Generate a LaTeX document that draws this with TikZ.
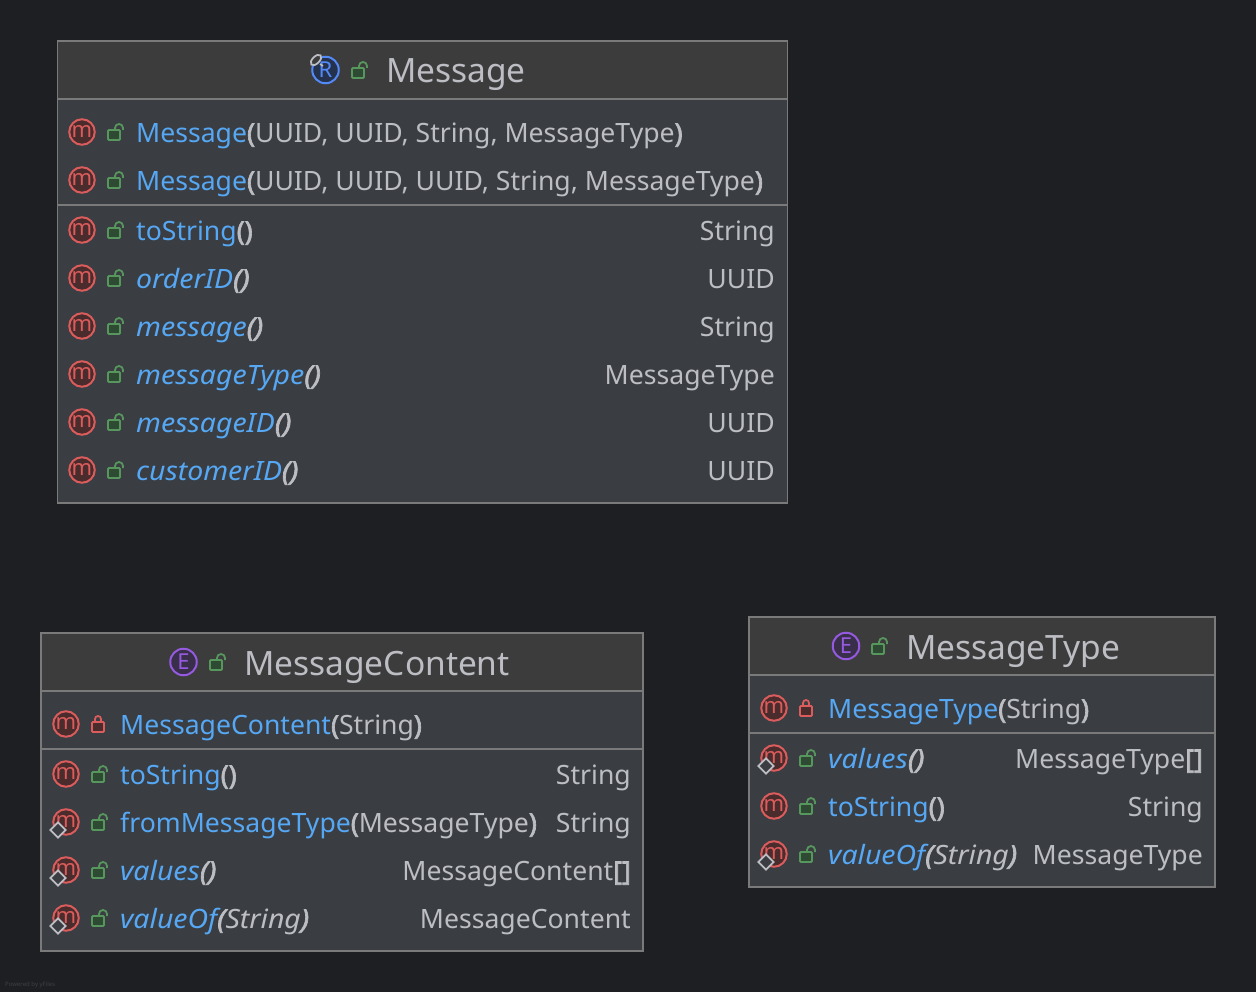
\documentclass[tikz,border=0pt]{standalone}
\usepackage{fontspec}
\setmainfont{Noto Sans}[
  BoldFont={Noto Sans},BoldFeatures={FakeBold=2.5},
  ItalicFont={Noto Sans/I},ItalicFeatures={FakeStretch=1.07},
  BoldItalicFont={Noto Sans/I},BoldItalicFeatures={FakeBold=2.5,FakeStretch=1.07}]
\usetikzlibrary{shapes.geometric}
\definecolor{bgc}{HTML}{1E1F22}
\definecolor{headc}{HTML}{3C3C3C}
\definecolor{bodyc}{HTML}{3A3D41}
\definecolor{edgec}{HTML}{7A7A7A}
\definecolor{txtc}{HTML}{BCBEC4}
\definecolor{namec}{HTML}{56A8F5}
\definecolor{redc}{HTML}{DB5C5C}
\definecolor{redf}{HTML}{4A2C2C}
\definecolor{grnc}{HTML}{57965C}
\definecolor{grnf}{HTML}{2F4A33}
\definecolor{purc}{HTML}{955AE0}
\definecolor{bluc}{HTML}{548AF7}
\definecolor{bluf}{HTML}{25324D}
\definecolor{purf}{HTML}{3A2F4A}
\definecolor{wmc}{HTML}{3E4045}
\tikzset{
  x=1pt,y=-1pt,
  boxhead/.style={draw=edgec,line width=1.6pt,fill=headc},
  boxbody/.style={draw=edgec,line width=1.6pt,fill=bodyc},
  sep/.style={draw=edgec,line width=1.6pt},
  member/.style={anchor=base west,inner sep=0pt,font=\fontsize{26.6}{27}\selectfont,text=txtc},
  rettype/.style={anchor=base east,inner sep=0pt,font=\fontsize{26.6}{27}\selectfont,text=txtc},
  titletext/.style={anchor=base west,inner sep=0pt,font=\fontsize{33.5}{34}\selectfont,text=txtc},
  iconm/.style={circle,draw=redc,fill=redf,line width=2pt,minimum size=25.5pt,inner sep=0pt,text=redc,font=\fontsize{22}{22}\selectfont},
  icont/.style={circle,line width=2pt,minimum size=26.5pt,inner sep=0pt,font=\fontsize{22}{22}\selectfont},
  staticmark/.style={diamond,draw=txtc,fill=bodyc,line width=1.8pt,minimum size=16pt,inner sep=0pt},
}
\newcommand{\openlock}[2]{%
  \draw[grnc,fill=grnf,line width=1.8pt,rounded corners=1pt] (#1-8,#2-2) rectangle (#1+4,#2+8);
  \draw[grnc,line width=1.8pt] (#1-1,#2-2) -- (#1-1,#2-4) arc[start angle=180,end angle=0,x radius=4,y radius=-4] -- (#1+7,#2-2);
}
\newcommand{\closedlock}[2]{%
  \draw[redc,line width=1.8pt,fill=redf,rounded corners=1pt] (#1-6,#2-2) rectangle (#1+6,#2+8);
  \draw[redc,line width=1.8pt] (#1-3,#2-2) -- (#1-3,#2-5) arc[start angle=180,end angle=0,x radius=3,y radius=-3] -- (#1+3,#2-2);
}
% \mrow{id}{icon centre x}{centre y}{lock}{static 0/1}{text}{right x}{return}
\newcommand{\mrow}[8]{%
  \node[iconm] (#1i) at (#2,#3) {\raisebox{1.5pt}{m}};
  \ifnum#5=1 \node[staticmark] (#1s) at (#2-8,#3+8) {};\fi
  \ifnum#4=1 \openlock{#2+34}{#3}\else\closedlock{#2+32}{#3}\fi
  \node[member] (#1t) at (#2+54,#3+10.5) {#6};
  \node[rettype] (#1r) at (#7,#3+10.5) {\strut\smash{#8}};
}
\newcommand{\nm}[1]{\textcolor{namec}{#1}}
\newcommand{\pb}[1]{\textbf{#1}}
\begin{document}
\begin{tikzpicture}
\useasboundingbox (0,0) rectangle (1256,992);
\fill[bgc] (0,0) rectangle (1256,992);

% ---- Message
\draw[boxbody] (57.5,41) rectangle (787.5,503);
\draw[boxhead] (57.5,41) rectangle (787.5,99);
\draw[sep] (57.5,205) -- (787.5,205);
\node[icont,draw=bluc,fill=bluf,text=bluc] (msgicon) at (325.5,70) {R};
\draw[txtc,line width=1.6pt] (320,64) -- (323,66);
\draw[txtc,fill=headc,line width=1.8pt,rotate around={45:(316,60)}] (316,60) ellipse[x radius=6.5,y radius=3.5];
\openlock{360}{70}
\node[titletext] (msgtitle) at (386,83) {Message};
\mrow{a1}{82}{132}{1}{0}{\nm{Message}\pb{(}UUID, UUID, String, MessageType\pb{)}}{775}{}
\mrow{a2}{82}{180}{1}{0}{\nm{Message}\pb{(}UUID, UUID, UUID, String, MessageType\pb{)}}{775}{}
\mrow{a3}{82}{230}{1}{0}{\nm{toString}\pb{()}}{775}{String}
\mrow{a4}{82}{278}{1}{0}{\textit{\nm{orderID}\pb{()}}}{775}{UUID}
\mrow{a5}{82}{326}{1}{0}{\textit{\nm{message}\pb{()}}}{775}{String}
\mrow{a6}{82}{374}{1}{0}{\textit{\nm{messageType}\pb{()}}}{775}{MessageType}
\mrow{a7}{82}{422}{1}{0}{\textit{\nm{messageID}\pb{()}}}{775}{UUID}
\mrow{a8}{82}{470}{1}{0}{\textit{\nm{customerID}\pb{()}}}{775}{UUID}

% ---- MessageContent
\draw[boxbody] (41,633) rectangle (643,951);
\draw[boxhead] (41,633) rectangle (643,691);
\draw[sep] (41,749) -- (643,749);
\node[icont,draw=purc,fill=purf,text=purc] (mcicon) at (183.5,662) {E};
\openlock{218}{662}
\node[titletext] (mctitle) at (244,675) {MessageContent};
\mrow{b1}{66}{724}{0}{0}{\nm{MessageContent}\pb{(}String\pb{)}}{631}{}
\mrow{b2}{66}{774}{1}{0}{\nm{toString}\pb{()}}{631}{String}
\mrow{b3}{66}{822}{1}{1}{\nm{fromMessageType}\pb{(}MessageType\pb{)}}{631}{String}
\mrow{b4}{66}{870}{1}{1}{\textit{\nm{values}\pb{()}}}{631}{MessageContent\pb{[]}}
\mrow{b5}{66}{918}{1}{1}{\textit{\nm{valueOf}\pb{(}String\pb{)}}}{631}{MessageContent}

% ---- MessageType
\draw[boxbody] (749,617) rectangle (1215,887);
\draw[boxhead] (749,617) rectangle (1215,675);
\draw[sep] (749,733) -- (1215,733);
\node[icont,draw=purc,fill=purf,text=purc] (mticon) at (846,646) {E};
\openlock{880}{646}
\node[titletext] (mttitle) at (906,659) {MessageType};
\mrow{c1}{774}{708}{0}{0}{\nm{MessageType}\pb{(}String\pb{)}}{1203}{}
\mrow{c2}{774}{758}{1}{1}{\textit{\nm{values}\pb{()}}}{1203}{MessageType\pb{[]}}
\mrow{c3}{774}{806}{1}{0}{\nm{toString}\pb{()}}{1203}{String}
\mrow{c4}{774}{854}{1}{1}{\textit{\nm{valueOf}\pb{(}String\pb{)}}}{1203}{MessageType}

\node[anchor=base west,inner sep=0pt,text=wmc,font=\fontsize{6}{6}\selectfont] (wm) at (5,986) {Powered by yFiles};
\end{tikzpicture}
\end{document}
